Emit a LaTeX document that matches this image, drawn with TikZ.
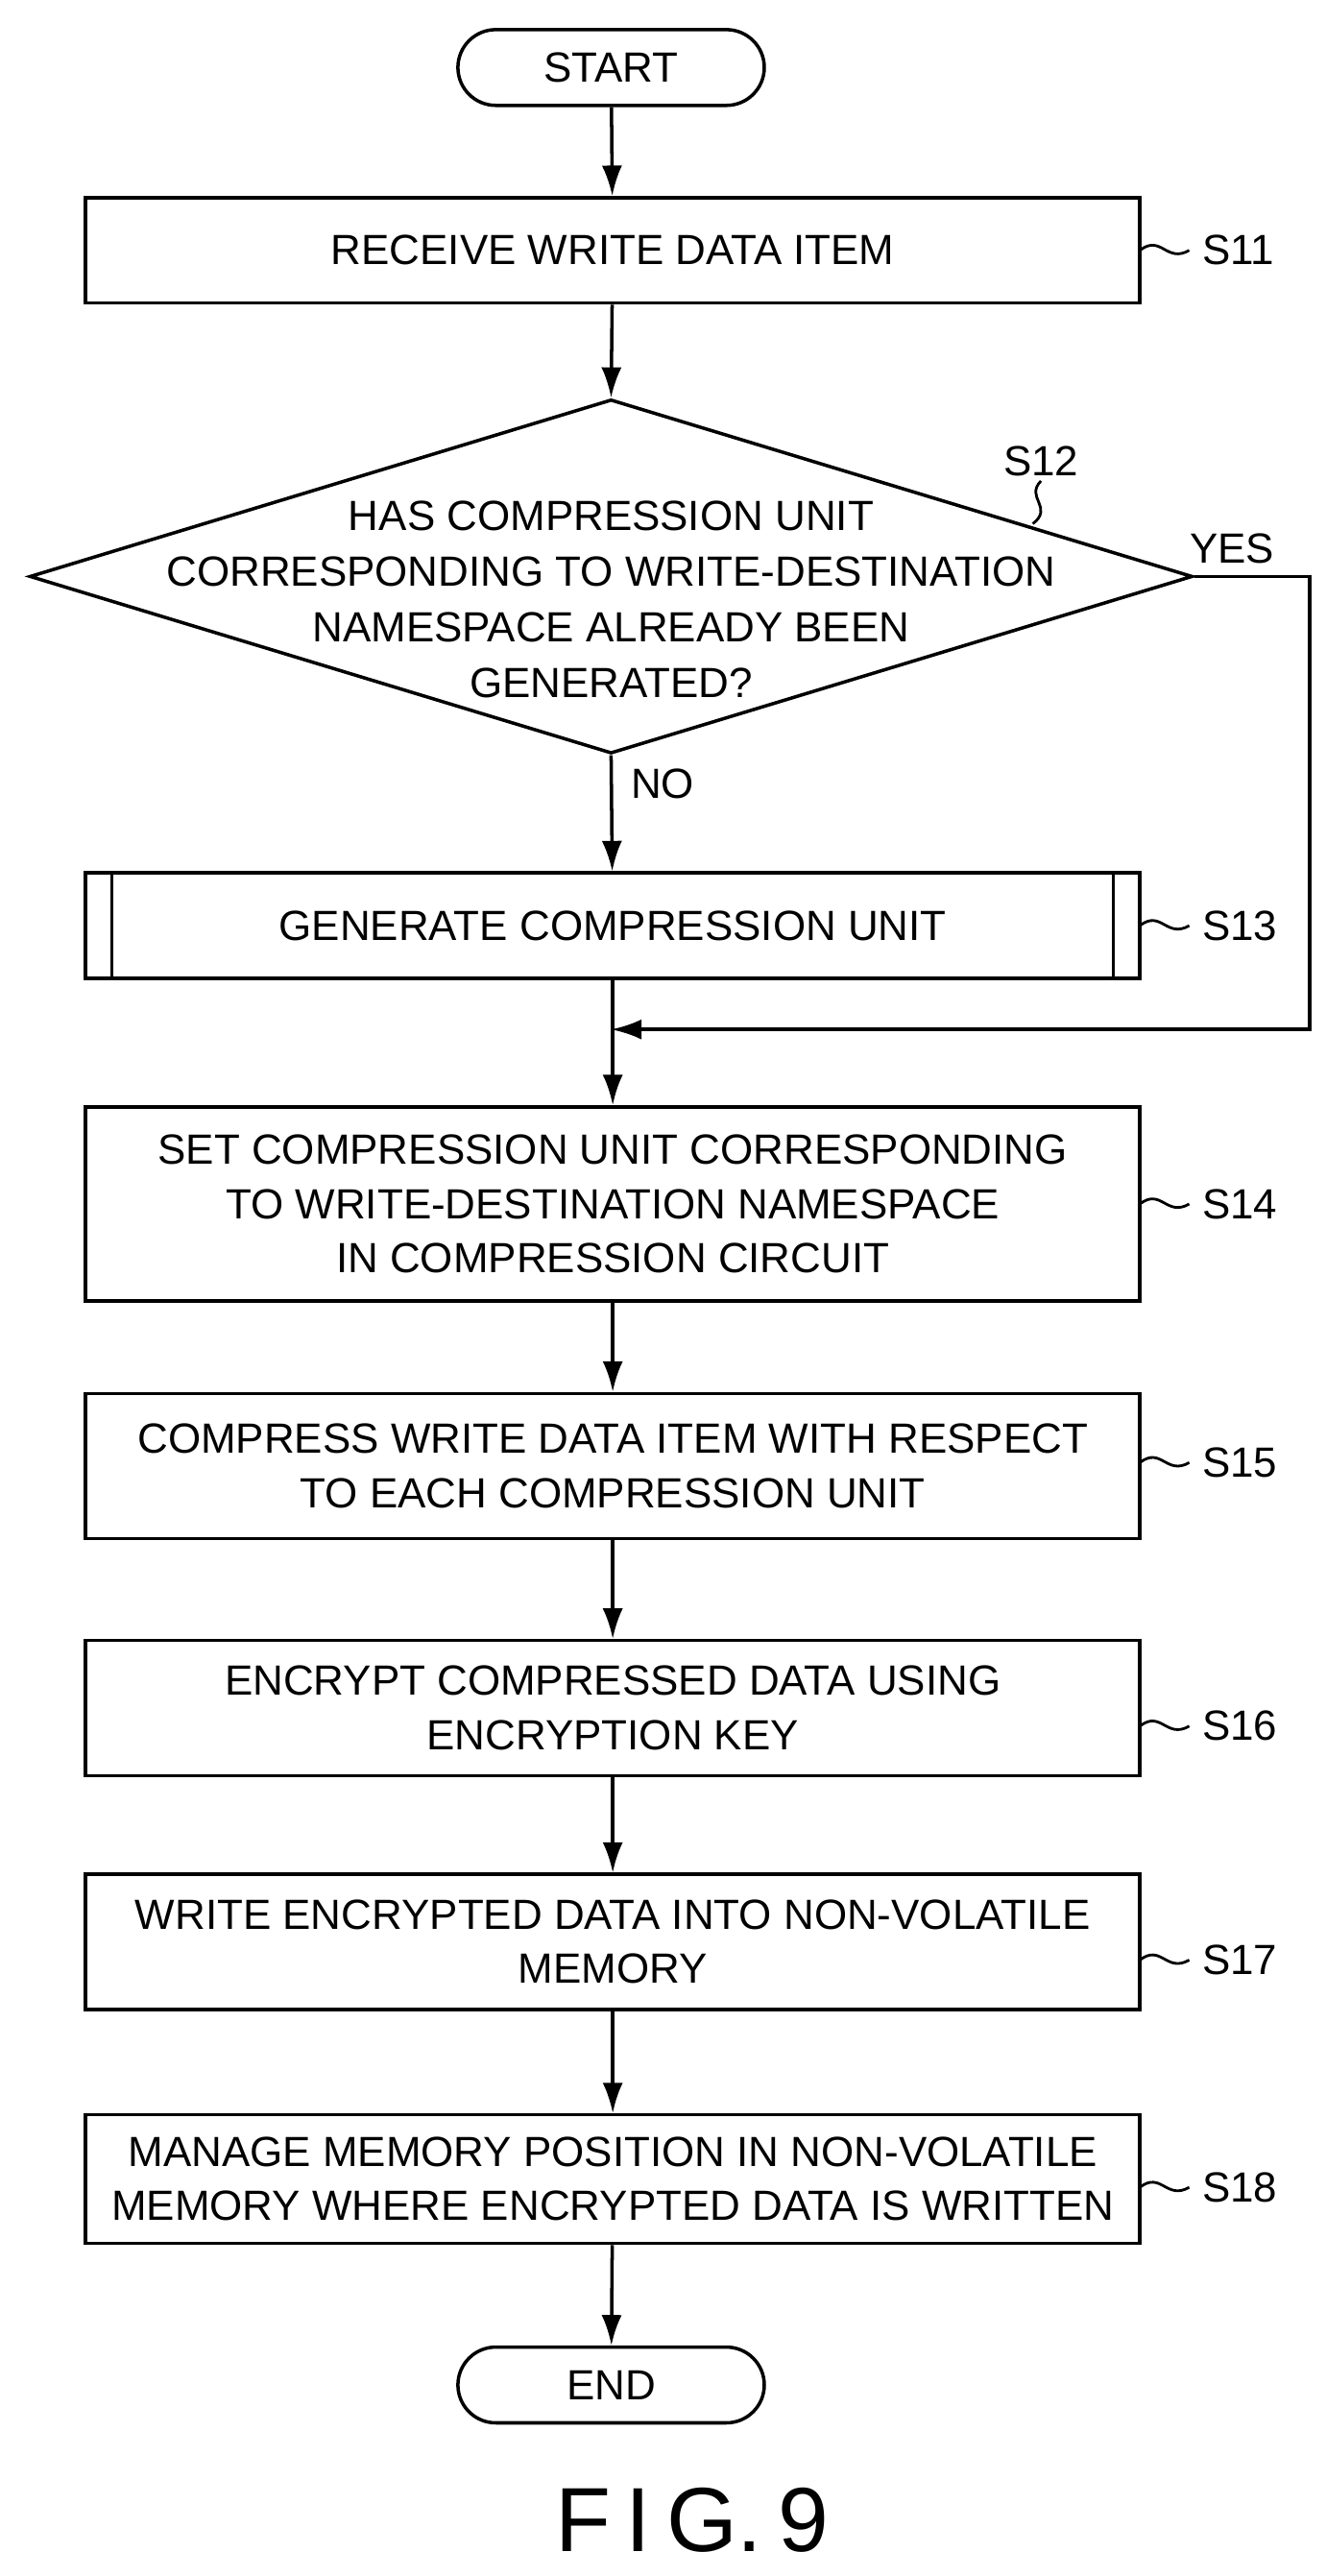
\documentclass[tikz,border=0pt]{standalone}
\usepackage{fontspec}
\setmainfont{Liberation Sans}
\usetikzlibrary{arrows.meta,shapes.geometric}
\begin{document}
\begin{tikzpicture}[x={(0.01715cm,0)},y={(0,-0.01715cm)},line width=1pt,
  box/.style={draw,minimum width=640*0.01715cm,align=center,font=\fontsize{12.5}{16}\selectfont,inner sep=0pt},
  term/.style={draw,rounded corners=23*0.01715cm,minimum width=186*0.01715cm,minimum height=46*0.01715cm,font=\fontsize{12.5}{15}\selectfont},
  lab/.style={font=\fontsize{12.5}{15}\selectfont},
  arr/.style={-{Latex[length=9pt,width=6pt]}}]
\useasboundingbox (0,0) rectangle (805,1564);
\node[term] (start) at (371,41) {START};
\node[box,minimum height=64*0.01715cm] (s11) at (372,152) {RECEIVE WRITE DATA ITEM};
\node[draw,diamond,aspect=3.29,minimum width=706*0.01715cm,minimum height=215*0.01715cm,inner sep=0pt] (d) at (371,350) {};
\node[align=center,font=\fontsize{12.5}{16.5}\selectfont] at (371,364) {HAS COMPRESSION UNIT\\CORRESPONDING TO WRITE-DESTINATION\\NAMESPACE ALREADY BEEN\\GENERATED?};
\node[box,minimum height=64*0.01715cm] (s13) at (372,562) {GENERATE COMPRESSION UNIT};
\draw (68,530) -- (68,594) (676,530) -- (676,594);
\node[box,minimum height=118*0.01715cm] (s14) at (372,731) {SET COMPRESSION UNIT CORRESPONDING\\TO WRITE-DESTINATION NAMESPACE\\IN COMPRESSION CIRCUIT};
\node[box,minimum height=88*0.01715cm] (s15) at (372,890) {COMPRESS WRITE DATA ITEM WITH RESPECT\\TO EACH COMPRESSION UNIT};
\node[box,minimum height=82*0.01715cm] (s16) at (372,1037) {ENCRYPT COMPRESSED DATA USING\\ENCRYPTION KEY};
\node[box,minimum height=82*0.01715cm] (s17) at (372,1179) {WRITE ENCRYPTED DATA INTO NON-VOLATILE\\MEMORY};
\node[box,minimum height=78*0.01715cm] (s18) at (372,1323) {MANAGE MEMORY POSITION IN NON-VOLATILE\\MEMORY WHERE ENCRYPTED DATA IS WRITTEN};
\node[term] (end) at (371,1448) {END};
\node[font=\fontsize{27}{30}\selectfont] at (420,1530) {F\,I\,G.\,9};
% arrows
\draw[arr] (start) -- (s11);
\draw[arr] (s11) -- (d.north);
\draw[arr] (d.south) -- node[lab,right,pos=0.25,xshift=2pt]{NO} (s13);
\draw[arr] (s13) -- (s14);
\draw[arr] (s14) -- (s15);
\draw[arr] (s15) -- (s16);
\draw[arr] (s16) -- (s17);
\draw[arr] (s17) -- (s18);
\draw[arr] (s18) -- (end);
\coordinate (c1) at (795,350);
\coordinate (c2) at (795,625);
\coordinate (c3) at (371,625);
\draw[arr] (d.east) -- (c1) -- (c2) -- (c3);
\node[lab] at (748,333) {YES};
% step labels
\foreach \n/\y in {s11/152,s13/562,s14/731,s15/888,s16/1048,s17/1190,s18/1328}{
  \draw[line width=0.8pt] (692,\y) .. controls (705,\y-10) and (708,\y+8) .. (722,\y);
  \node[lab,anchor=west] at (722,\y) {\MakeUppercase{\n}};
}
\node[lab] at (632,280) {S12};
\draw[line width=0.8pt] (632,292) .. controls (622,302) and (640,308) .. (627,318);
\end{tikzpicture}
\end{document}
